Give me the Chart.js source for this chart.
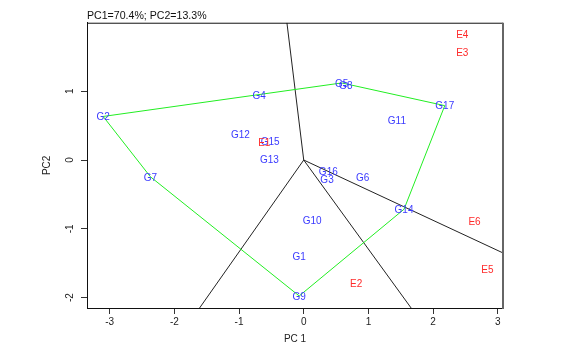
<!DOCTYPE html>
<html>
<head>
<meta charset="utf-8">
<script src="https://cdn.jsdelivr.net/npm/chart.js@4.4.1/dist/chart.umd.min.js"></script>
<style>
  html, body { margin: 0; padding: 0; background: #fff; }
  #wrap { width: 577px; height: 351px; }
</style>
</head>
<body>
<div id="wrap"><canvas id="biplot"></canvas></div>
<script>
// genotypes (blue)
const genoNames = ['G1', 'G2', 'G3', 'G4', 'G5', 'G6', 'G7', 'G8', 'G9', 'G10', 'G11', 'G12', 'G13', 'G14', 'G15', 'G16', 'G17'];
const genoX = [-0.07, -3.10, 0.36, -0.69, 0.587, 0.91, -2.37, 0.65, -0.07, 0.13, 1.44, -0.98, -0.53, 1.55, -0.52, 0.38, 2.18];
const genoY = [-1.40, 0.633, -0.28, 0.94, 1.12, -0.25, -0.243, 1.09, -1.975, -0.87, 0.575, 0.37, 0.01, -0.715, 0.28, -0.16, 0.79];

// environments (red)
const envNames = ['E1', 'E2', 'E3', 'E4', 'E5', 'E6'];
const envX = [-0.61, 0.81, 2.45, 2.45, 2.84, 2.64];
const envY = [0.26, -1.79, 1.57, 1.83, -1.59, -0.89];

// polygon vertices (which-won-where)
const hullOrder = ['G2', 'G5', 'G17', 'G14', 'G9', 'G7', 'G2'];

// sector rays from the origin, end points at the plot border
const rayEndX = [-0.26, -1.61, 1.66, 3.08];
const rayEndY = [1.995, -2.15, -2.15, -1.35];

const xTicks = [-3, -2, -1, 0, 1, 2, 3];
const yTicks = [-2, -1, 0, 1];

const hullPoints = hullOrder.map(function(name) {
    const i = genoNames.indexOf(name);
    return { x: genoX[i], y: genoY[i] };
});

const rayDatasets = rayEndX.map(function(x, i) {
    return {
        data: [{ x: 0, y: 0 }, { x: x, y: rayEndY[i] }],
        showLine: true,
        borderColor: '#222',
        borderWidth: 1,
        pointRadius: 0
    };
});

const labelFont = '10px "Liberation Sans", Arial, sans-serif';

// draw names at the points
const pointLabels = {
    id: 'pointLabels',
    afterDatasetsDraw(chart) {
        const ctx = chart.ctx;
        chart.data.datasets.forEach(function(ds, i) {
            if (!ds.names) return;
            const meta = chart.getDatasetMeta(i);
            ctx.save();
            ctx.font = labelFont;
            ctx.fillStyle = ds.nameColor;
            ctx.textAlign = 'center';
            ctx.textBaseline = 'middle';
            meta.data.forEach(function(pt, j) {
                ctx.fillText(ds.names[j], pt.x, pt.y + 1);
            });
            ctx.restore();
        });
    }
};

// R style box around the plot
const frameBox = {
    id: 'frameBox',
    afterDraw(chart) {
        const a = chart.chartArea;
        const ctx = chart.ctx;
        ctx.save();
        ctx.strokeStyle = '#111';
        ctx.lineWidth = 1;
        ctx.beginPath();
        ctx.moveTo(a.left + 0.5, a.bottom + 0.5);
        ctx.lineTo(a.left + 0.5, a.top + 0.5);
        ctx.lineTo(a.right, a.top + 0.5);
        ctx.stroke();
        ctx.strokeStyle = '#666';
        ctx.lineWidth = 2;
        ctx.beginPath();
        ctx.moveTo(a.right, a.top);
        ctx.lineTo(a.right, a.bottom + 1);
        ctx.stroke();
        ctx.restore();
    }
};

new Chart(document.getElementById('biplot'), {
    type: 'scatter',
    data: {
        datasets: [
            {
                data: hullPoints,
                showLine: true,
                borderColor: '#22ee22',
                borderWidth: 1,
                pointRadius: 0
            },
            ...rayDatasets,
            {
                data: genoX.map(function(x, i) { return { x: x, y: genoY[i] }; }),
                names: genoNames,
                nameColor: '#3a3aff',
                pointRadius: 0
            },
            {
                data: envX.map(function(x, i) { return { x: x, y: envY[i] }; }),
                names: envNames,
                nameColor: '#ff2a2a',
                pointRadius: 0
            }
        ]
    },
    options: {
        responsive: true,
        maintainAspectRatio: false,
        animation: false,
        layout: { padding: { top: 0, right: 74, left: 0, bottom: 0 } },
        plugins: {
            legend: { display: false },
            tooltip: { enabled: false },
            title: {
                display: true,
                text: 'PC1=70.4%; PC2=13.3%',
                align: 'start',
                fullSize: false,
                color: '#111',
                font: { family: '"Liberation Sans", Arial, sans-serif', size: 10.6, weight: 'normal' },
                padding: { top: 10, bottom: 0 }
            }
        },
        scales: {
            x: {
                type: 'linear',
                min: -3.35,
                max: 3.08,
                afterBuildTicks: function(scale) {
                    scale.ticks = xTicks.map(function(v) { return { value: v }; });
                },
                afterFit: function(scale) { scale.height = 43; },
                grid: { drawOnChartArea: false, drawTicks: true, tickLength: 6, color: '#333' },
                border: { display: true, color: '#111', width: 1 },
                ticks: {
                    color: '#222',
                    padding: 2,
                    maxRotation: 0,
                    font: { family: '"Liberation Sans", Arial, sans-serif', size: 10 }
                },
                title: {
                    display: true,
                    text: 'PC 1',
                    color: '#222',
                    font: { family: '"Liberation Sans", Arial, sans-serif', size: 10 },
                    padding: { top: 0, bottom: 6 }
                }
            },
            y: {
                type: 'linear',
                min: -2.15,
                max: 1.995,
                afterBuildTicks: function(scale) {
                    scale.ticks = yTicks.map(function(v) { return { value: v }; });
                },
                afterFit: function(scale) { scale.width = 87; },
                grid: { drawOnChartArea: false, drawTicks: true, tickLength: 6, color: '#333' },
                border: { display: true, color: '#111', width: 1 },
                ticks: {
                    color: '#222',
                    padding: 6.5,
                    minRotation: 90,
                    maxRotation: 90,
                    crossAlign: 'center',
                    font: { family: '"Liberation Sans", Arial, sans-serif', size: 10 }
                },
                title: {
                    display: true,
                    text: 'PC2',
                    color: '#222',
                    font: { family: '"Liberation Sans", Arial, sans-serif', size: 10 },
                    padding: { top: 41, bottom: 0 }
                }
            }
        }
    },
    plugins: [pointLabels, frameBox]
});
</script>
</body>
</html>
